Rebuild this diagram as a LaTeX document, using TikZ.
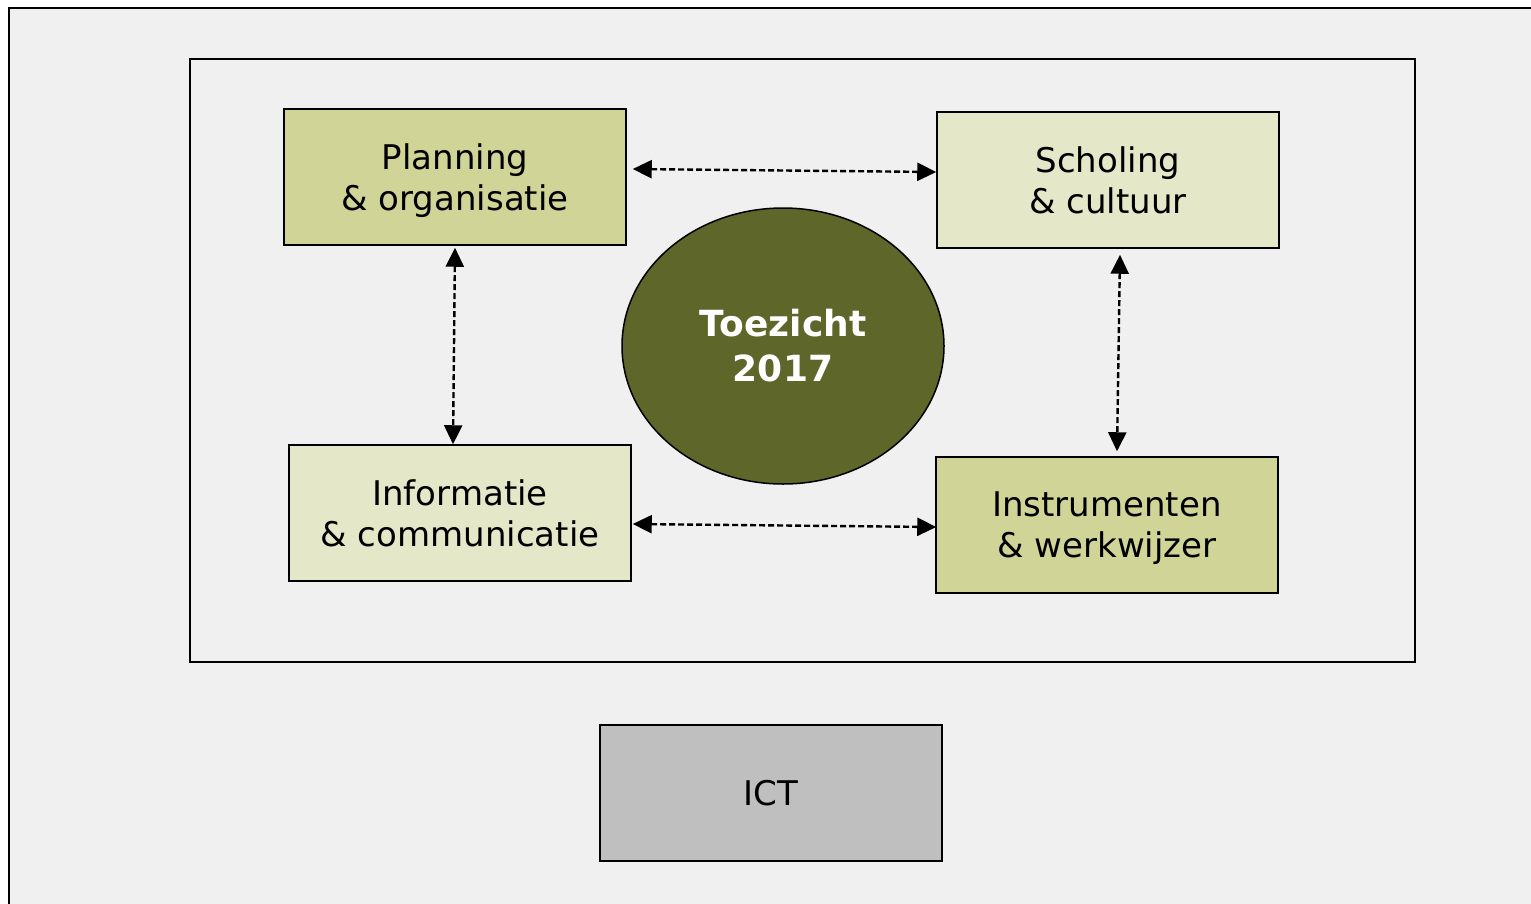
\documentclass[tikz,border=0pt]{standalone}
\usepackage{fontspec}
\setmainfont{DejaVu Sans}
\usetikzlibrary{arrows.meta,shapes.geometric}
\definecolor{bgc}{HTML}{F0F0F0}
\definecolor{darkbox}{HTML}{D0D597}
\definecolor{lightbox}{HTML}{E5E8C8}
\definecolor{olive}{HTML}{5F6629}
\definecolor{ictgray}{HTML}{BFBFBF}
\tikzset{
  topic/.style={draw=black, line width=1.5pt, rectangle, minimum width=342pt, minimum height=136pt,
    inner sep=0pt, align=center, text depth=0pt, font=\fontsize{34}{41}\selectfont},
  link/.style={line width=2.4pt, dash pattern=on 6pt off 3pt,
    >={Triangle[length=19pt,width=18pt]}, <->},
}
\begin{document}
\begin{tikzpicture}[x=1pt,y=-1pt]
\useasboundingbox (0,0) rectangle (1531,903);
\clip (0,0) rectangle (1531,903);
\fill[white] (0,0) rectangle (1531,903);
\draw[line width=2.5pt, fill=bgc] (9,8) rectangle (1545,915);
\draw[line width=1.5pt] (190,59) rectangle (1415,662);

\node[topic, fill=darkbox] (P) at (455,177) {Planning\\\& organisatie};
\node[topic, fill=lightbox] (S) at (1108,180) {Scholing\\\& cultuur};
\node[topic, fill=lightbox] (I) at (460,513) {Informatie\\\& communicatie};
\node[topic, fill=darkbox] (N) at (1107,525) {Instrumenten\\\& werkwijzer};
\node[topic, fill=ictgray] (C) at (771,793) {ICT};

\node[ellipse, draw=black, line width=1.5pt, fill=olive, minimum width=322pt, minimum height=276pt,
  inner sep=0pt, align=center, text=white, font=\fontsize{36}{45}\selectfont\bfseries] (E) at (783,346) {Toezicht\\2017};

\draw[link] ([xshift=6pt,yshift=8pt]P.east) -- ([yshift=8pt]S.west);
\draw[link] ([yshift=-2pt]P.south) -- ([xshift=-7pt]I.north);
\draw[link] ([xshift=12pt,yshift=-6pt]S.south) -- ([xshift=10pt,yshift=5pt]N.north);
\draw[link] ([xshift=1pt,yshift=-11pt]I.east) -- ([xshift=1pt,yshift=-2pt]N.west);
\end{tikzpicture}
\end{document}
